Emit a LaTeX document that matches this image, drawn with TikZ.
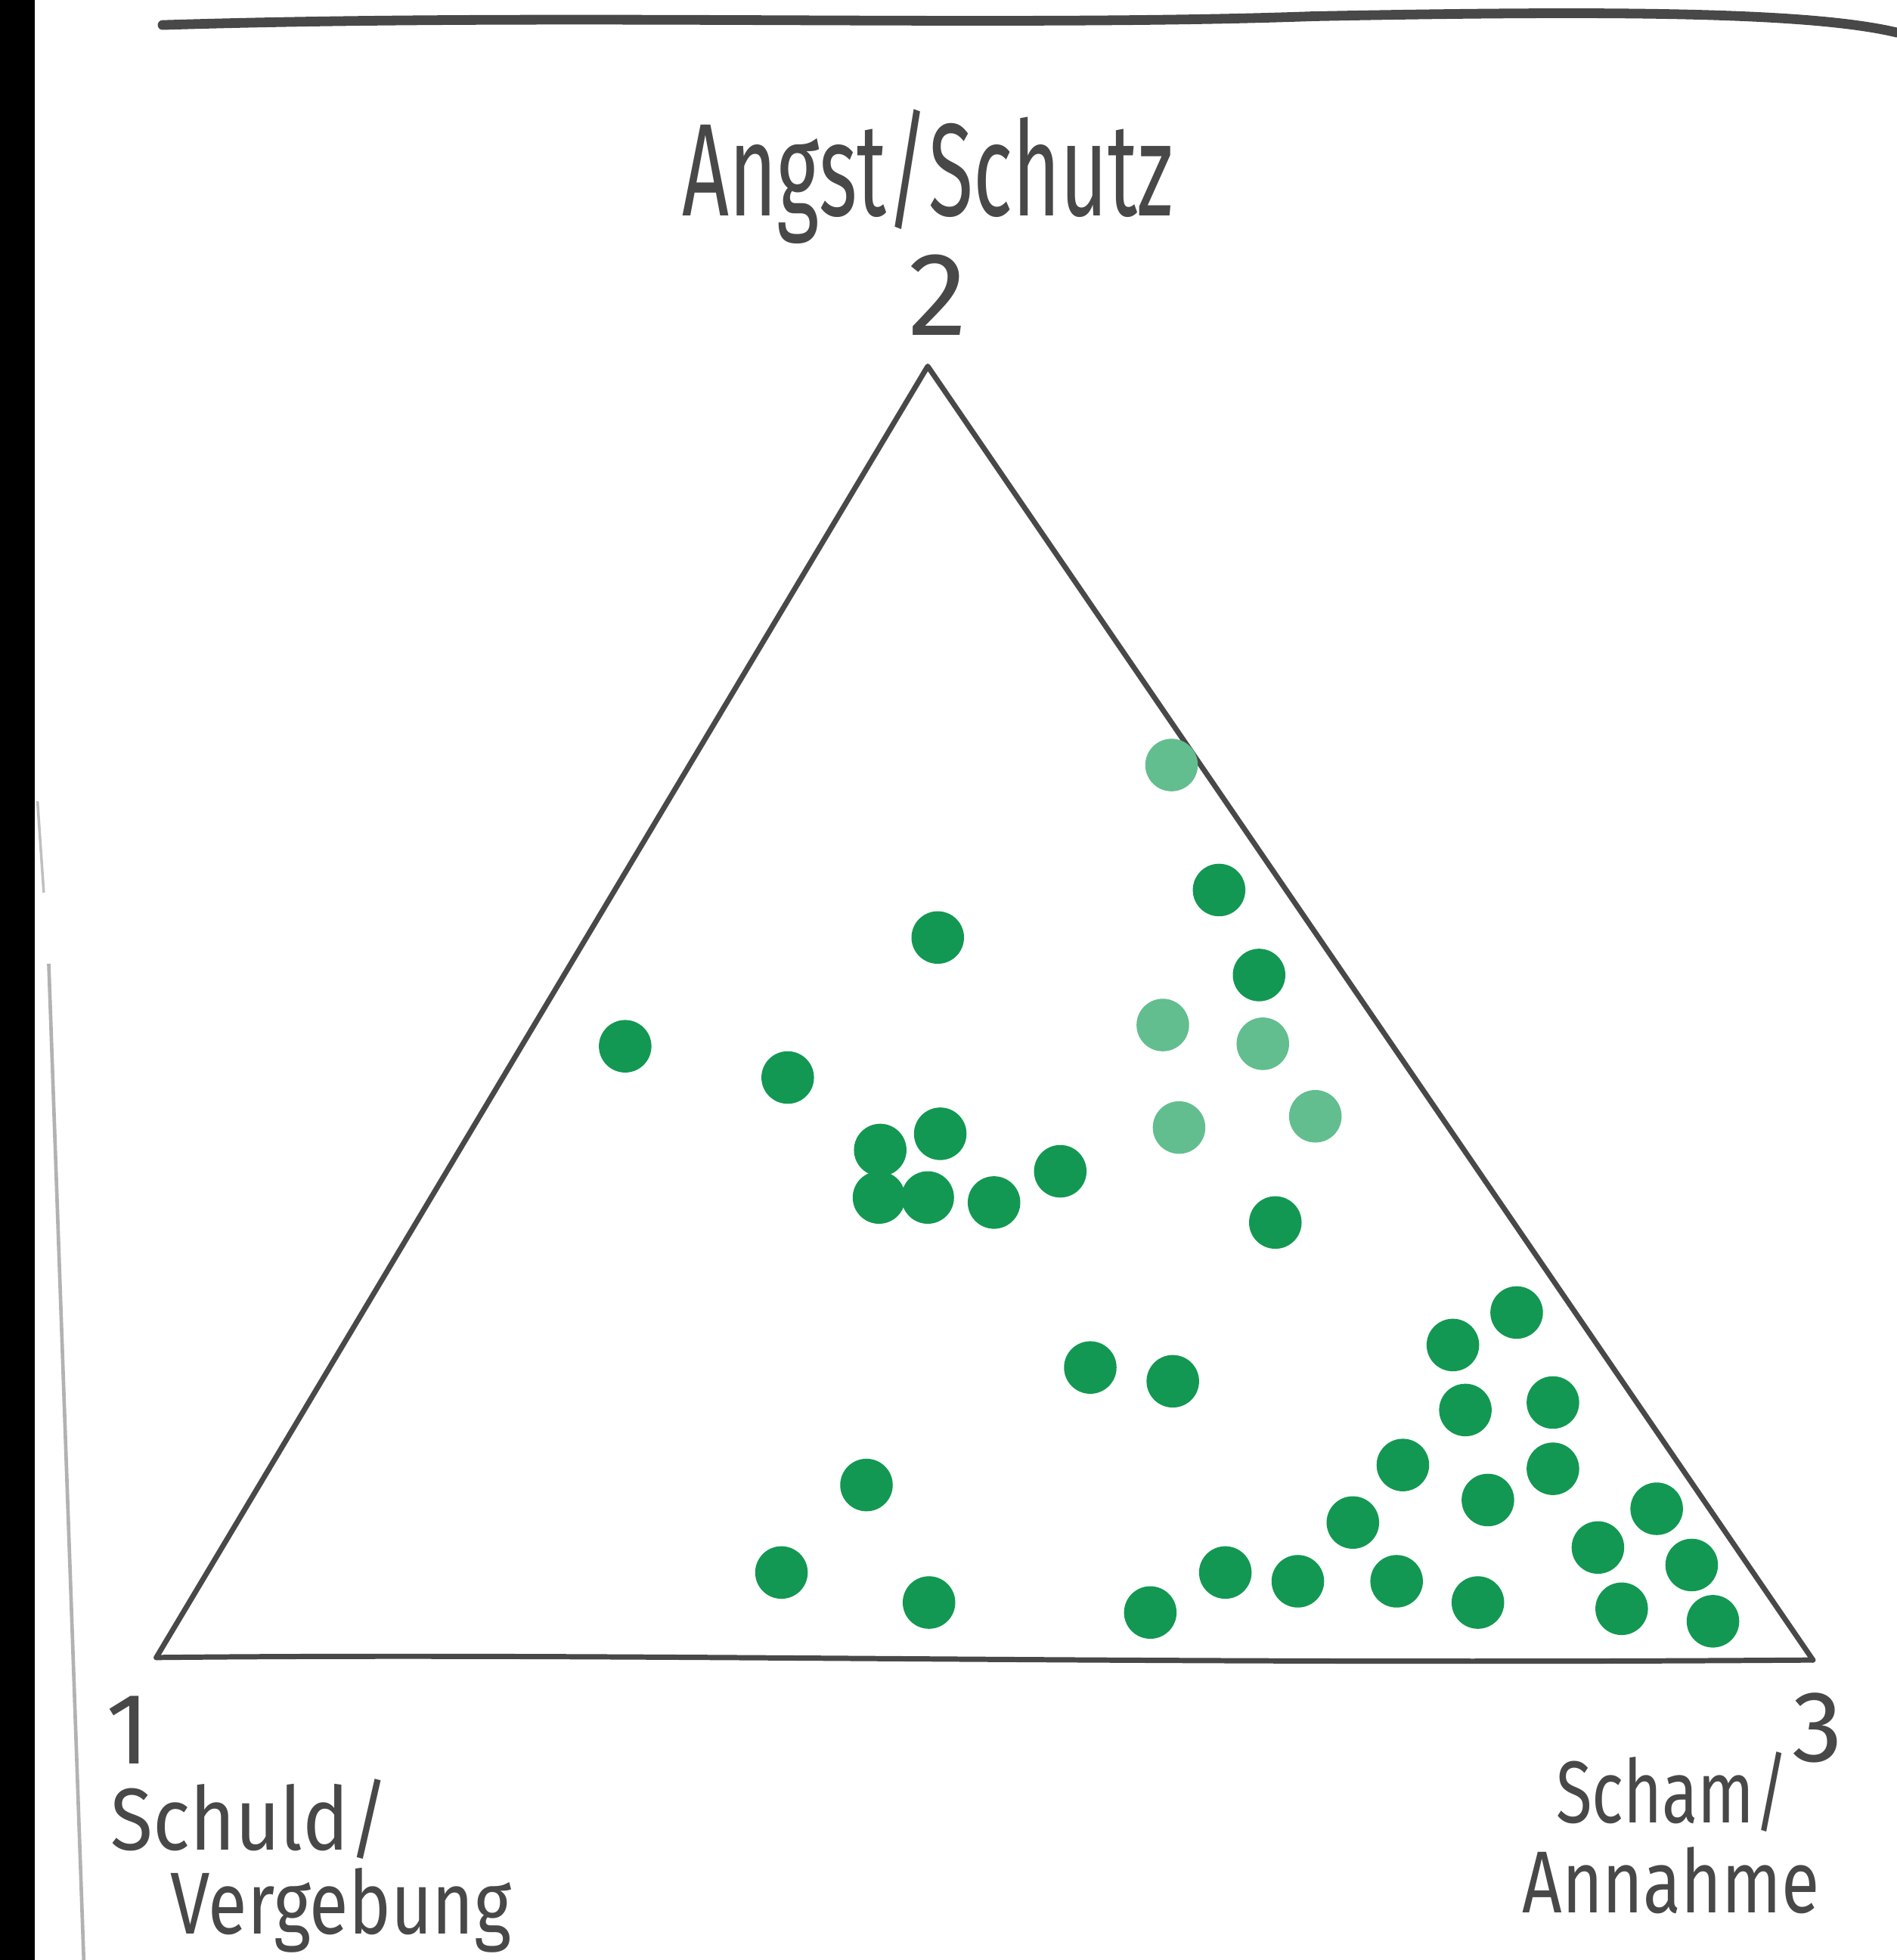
\documentclass[tikz,border=0pt]{standalone}
\usepackage{fontspec}
\setsansfont{Fira Sans}
\usetikzlibrary{positioning}
\definecolor{ink}{RGB}{72,72,72}
\definecolor{dotgreen}{RGB}{18,152,82}
\definecolor{dotlight}{RGB}{98,190,142}

\begin{document}
\begin{tikzpicture}[
    x=0.01cm, y=-0.01cm,
    pen/.style={draw=ink, line width=1.2pt, line cap=round, line join=round},
    hand/.style={font=\sffamily\fontsize{30}{34}\selectfont, text=ink, inner sep=0pt},
    num/.style={hand, font=\sffamily\fontsize{23}{26}\selectfont, anchor=base west},
    word/.style={hand, font=\sffamily\fontsize{20}{24}\selectfont, anchor=base west},
    dot/.style={circle, fill=dotgreen, minimum size=0.42cm, inner sep=0pt},
    pale/.style={dot, fill=dotlight}
]
    \useasboundingbox[fill=white] (0,0) rectangle (1517,1568);
    % photo edge and paper border
    \fill[black] (0,0) rectangle (28,1568);
    \draw[gray!50, line width=0.6pt] (30,641) -- (35,714);
    \draw[gray!60, line width=0.8pt] (39,771) -- (67,1568);
    \draw[pen, line width=2.2pt] (130,20) .. controls (450,10) and (800,22) .. (1050,13) .. controls (1300,8) and (1450,10) .. (1517,26);

    % triangle
    \coordinate (v1) at (125,1326);
    \coordinate (v2) at (742,293);
    \coordinate (v3) at (1450,1328);
    \draw[pen] (v1) -- (v2) -- (v3);
    \draw[pen] (v1) .. controls (500,1322) and (900,1332) .. (v3);

    % corner labels
    \node[hand, xscale=0.62] (top) at (742,141) {Angst/Schutz};
    \node[hand, font=\sffamily\fontsize{27}{30}\selectfont, above=0.24cm of v2, xshift=0.08cm] (num2) {2};
    \node[num] (num1) at (84,1411) {1};
    \node[word, xscale=0.88] (lbl1a) at (88,1480) {Schuld/};
    \node[word, xscale=0.81] (lbl1b) at (136,1547) {Vergebung};
    \node[num] (num3) at (1433,1409) {3};
    \node[word, xscale=0.75] (lbl3a) at (1244,1458) {Scham/};
    \node[word, xscale=0.79] (lbl3b) at (1217,1530) {Annahme};

    % dots
    \foreach \px/\py [count=\i] in {975/712, 750/750, 1007/780, 500/837, 630/862,
        752/907, 704/920, 848/937, 703/958, 742/958, 795/962, 1020/978,
        1213/1050, 1162/1076, 872/1094, 938/1105, 1172/1128, 1242/1122,
        1122/1172, 1242/1175, 693/1188, 1190/1200, 1325/1207, 1082/1218,
        1278/1238, 1353/1252, 625/1258, 980/1258, 1038/1265, 1117/1265,
        743/1282, 920/1290, 1182/1282, 1297/1287, 1370/1297}
        \node[dot] (d\i) at (\px,\py) {};
    \foreach \px/\py [count=\i] in {937/612, 930/820, 1010/835, 1052/893, 943/902}
        \node[pale] (p\i) at (\px,\py) {};
\end{tikzpicture}
\end{document}
